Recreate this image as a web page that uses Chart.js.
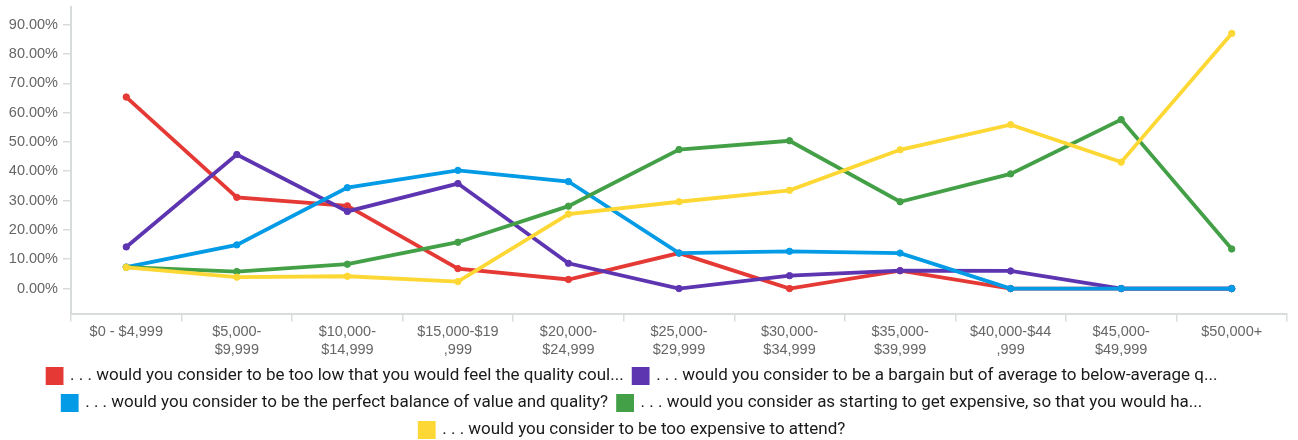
<!DOCTYPE html>
<html>
<head>
<meta charset="utf-8">
<script src="https://cdn.jsdelivr.net/npm/chart.js@4.4.0/dist/chart.umd.min.js"></script>
<style>
  html, body { margin: 0; padding: 0; background: #fff; }
  #wrap { width: 1298px; height: 440px; }
</style>
</head>
<body>
<div id="wrap"><canvas id="grafico"></canvas></div>
<script>
// categorias (rangos de precio)
const categorias = [
  '$0 - $4,999',
  ['$5,000-', '$9,999'],
  ['$10,000-', '$14,999'],
  ['$15,000-$19', ',999'],
  ['$20,000-', '$24,999'],
  ['$25,000-', '$29,999'],
  ['$30,000-', '$34,999'],
  ['$35,000-', '$39,999'],
  ['$40,000-$44', ',999'],
  ['$45,000-', '$49,999'],
  '$50,000+'
];

// valores en %
const demasiadoBajo = [65.3, 31.1, 28.2, 6.8, 3.1, 12.1, 0, 6.1, 0, 0, 0];
const ganga = [14.2, 45.7, 26.3, 35.8, 8.6, 0, 4.4, 6.1, 6.0, 0, 0];
const equilibrio = [7.3, 14.9, 34.4, 40.3, 36.5, 12.1, 12.7, 12.1, 0, 0, 0];
const empiezaCaro = [7.3, 5.8, 8.3, 15.8, 28.1, 47.4, 50.4, 29.6, 39.1, 57.6, 13.5];
const demasiadoCaro = [7.2, 3.9, 4.2, 2.4, 25.4, 29.6, 33.5, 47.3, 55.9, 43.1, 87.0];

const etiquetas = [
  '. . . would you consider to be too low that you would feel the quality coul...',
  '. . . would you consider to be a bargain but of average to below-average q...',
  '. . . would you consider to be the perfect balance of value and quality?',
  '. . . would you consider as starting to get expensive, so that you would ha...',
  '. . . would you consider to be too expensive to attend?'
];
const colores = ['#e53935', '#5e35b1', '#039be5', '#43a047', '#fdd835'];
const series = [demasiadoBajo, ganga, equilibrio, empiezaCaro, demasiadoCaro];

const yTicks = [0, 10, 20, 30, 40, 50, 60, 70, 80, 90];

const datasets = series.map((s, i) => ({
  label: etiquetas[i],
  data: s,
  borderColor: colores[i],
  backgroundColor: colores[i],
  pointBackgroundColor: colores[i],
  pointBorderColor: colores[i],
  borderWidth: 3.8,
  pointRadius: 3.2,
  pointBorderWidth: 1,
  tension: 0,
  fill: false,
  order: series.length - i // el ultimo queda encima
}));

const fuenteEjes = { family: "'Liberation Sans', Arial, sans-serif", size: 14.5 };

const ctx = document.getElementById('grafico').getContext('2d');
const chart = new Chart(ctx, {
  type: 'line',
  data: { labels: categorias, datasets: datasets },
  options: {
    responsive: true,
    maintainAspectRatio: false,
    animation: false,
    layout: { padding: { top: 7, right: 11, left: -22, bottom: -8.5 } },
    plugins: {
      tooltip: { enabled: false },
      legend: {
        position: 'bottom',
        labels: {
          boxWidth: 14,
          boxHeight: 14,
          padding: 10,
          color: '#1a1a1a',
          font: { family: 'Roboto', size: 17 },
          sort: (a, b) => a.datasetIndex - b.datasetIndex
        }
      }
    },
    scales: {
      x: {
        type: 'category',
        offset: true,
        border: { color: '#d9dcdc', width: 2 },
        grid: { offset: true, drawOnChartArea: false, tickLength: 8, color: '#d9dcdc', lineWidth: 1.5 },
        ticks: {
          autoSkip: false,
          maxRotation: 0,
          padding: 1,
          color: '#666',
          font: { ...fuenteEjes, lineHeight: 1.25 }
        },
        afterFit: s => { s.height = 44; s.paddingLeft = 0; s.paddingRight = 0; }
      },
      y: {
        min: -8.5,
        max: 96,
        border: { color: '#d9dcdc', width: 2 },
        grid: { drawOnChartArea: false, tickLength: 8, color: '#d9dcdc', lineWidth: 1.5 },
        afterBuildTicks: s => { s.ticks = yTicks.map(v => ({ value: v })); },
        ticks: {
          padding: 5,
          color: '#666',
          font: fuenteEjes,
          callback: v => v.toFixed(2) + '%'
        },
        afterFit: s => { s.width = 93; s.paddingTop = 0; s.paddingBottom = 0; }
      }
    }
  }
});
</script>
</body>
</html>
